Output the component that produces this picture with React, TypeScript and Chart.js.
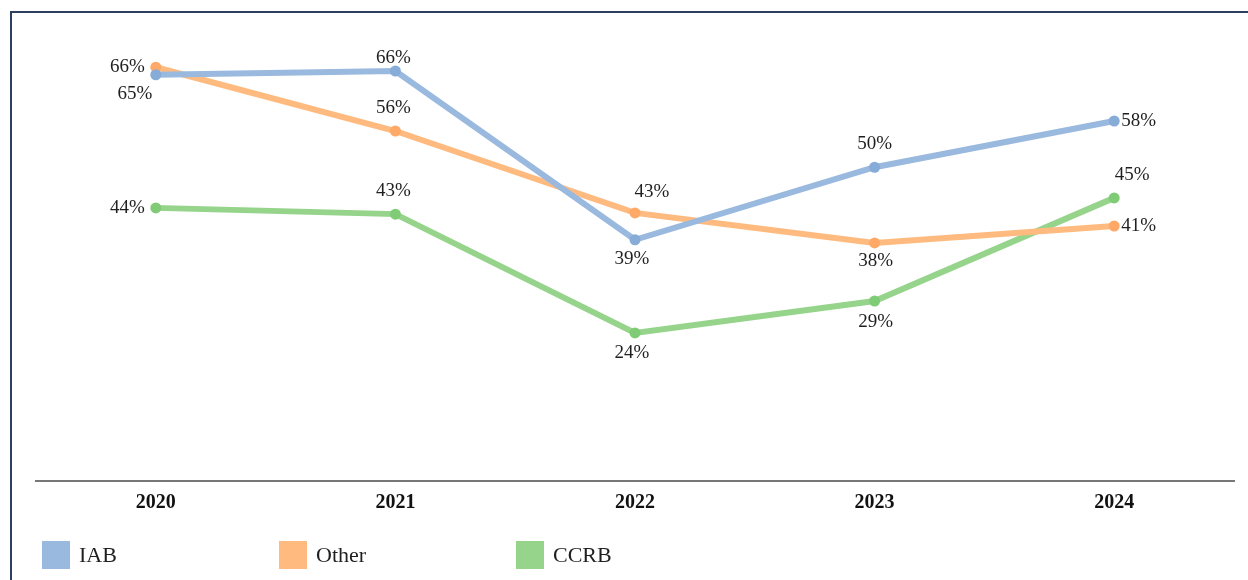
import React, { useEffect, useRef } from "react";
import { Chart, registerables } from "chart.js";

Chart.register(...registerables);

const categories = ["2020", "2021", "2022", "2023", "2024"];
const seriesNames = ["IAB", "Other", "CCRB"];
const iabValues = [65.0, 65.6, 38.6, 50.2, 57.6];
const otherValues = [66.2, 56.0, 42.9, 38.1, 40.8];
const ccrbValues = [43.7, 42.7, 23.7, 28.8, 45.3];

const lineColors = ["#9ab9de", "#ffbb7f", "#96d48c"];
const pointColors = ["#88acd8", "#ffa968", "#80cb76"];

// label placement per point: [dx, dy, align]
const labelPlacement: [number, number, CanvasTextAlign][][] = [
  [[-21, 19, "center"], [-2, -13, "center"], [-3, 19, "center"], [0, -23, "center"], [7, 0, "left"]],
  [[-11, 0, "right"], [-2, -23, "center"], [17, -21, "center"], [1, 18, "center"], [7, 0, "left"]],
  [[-11, 0, "right"], [-2, -23, "center"], [-3, 20, "center"], [1, 21, "center"], [18, -23, "center"]],
];

const SERIF = "'Liberation Serif', 'Times New Roman', serif";

const labelPlugin = {
  id: "pctLabels",
  afterDatasetsDraw(chart: any) {
    const ctx = chart.ctx;
    ctx.save();
    ctx.font = `19px ${SERIF}`;
    ctx.fillStyle = "#1f1f1f";
    ctx.textBaseline = "middle";
    chart.data.datasets.forEach((ds: any, di: number) => {
      const meta = chart.getDatasetMeta(di);
      meta.data.forEach((pt: any, i: number) => {
        const [dx, dy, align] = labelPlacement[di][i];
        ctx.textAlign = align;
        ctx.fillText(`${Math.round(ds.data[i])}%`, pt.x + dx, pt.y + dy);
      });
    });
    ctx.restore();
  },
};

export default function App() {
  const canvasRef = useRef<HTMLCanvasElement>(null);

  useEffect(() => {
    if (!canvasRef.current) return;
    const allValues = [iabValues, otherValues, ccrbValues];
    const chart = new Chart(canvasRef.current, {
      type: "line",
      data: {
        labels: categories,
        datasets: seriesNames.map((name, i) => ({
          label: name,
          data: allValues[i],
          borderColor: lineColors[i],
          backgroundColor: pointColors[i],
          pointBackgroundColor: pointColors[i],
          pointBorderColor: pointColors[i],
          pointRadius: 5.5,
          pointBorderWidth: 0,
          borderWidth: 6,
          tension: 0,
          fill: false,
        })),
      },
      options: {
        animation: false,
        responsive: false,
        maintainAspectRatio: false,
        layout: { padding: { left: 36, right: 14, top: 43.5, bottom: 0 } },
        plugins: {
          legend: { display: false },
          tooltip: { enabled: false },
          title: { display: false },
        },
        scales: {
          x: {
            type: "category",
            offset: true,
            grid: { display: false, drawTicks: false },
            border: { display: true, color: "#777777", width: 2 },
            ticks: {
              color: "#111111",
              padding: 10,
              font: { family: SERIF, size: 20, weight: "bold" },
            },
            afterFit(scale: any) {
              scale.height = 99;
            },
          },
          y: {
            display: false,
            min: 0,
            max: 70,
          },
        },
      },
      plugins: [labelPlugin],
    });
    return () => chart.destroy();
  }, []);

  const legendX = [42, 279, 516];

  return (
    <div
      style={{
        position: "fixed",
        left: 0,
        top: 0,
        width: 1248,
        height: 580,
        overflow: "hidden",
        background: "#ffffff",
      }}
    >
      <div
        style={{
          position: "absolute",
          left: 10,
          top: 11,
          width: 1300,
          height: 700,
          border: "2px solid #2b3f5e",
          boxSizing: "border-box",
        }}
      />
      <canvas
        ref={canvasRef}
        width={1248}
        height={580}
        style={{ position: "absolute", left: 0, top: 0, width: 1248, height: 580 }}
      />
      {seriesNames.map((name, i) => (
        <div
          key={name}
          style={{
            position: "absolute",
            left: legendX[i],
            top: 541,
            height: 28,
            display: "flex",
            alignItems: "center",
          }}
        >
          <div style={{ width: 28, height: 28, background: lineColors[i] }} />
          <span
            style={{
              marginLeft: 9,
              fontFamily: SERIF,
              fontSize: 22,
              color: "#1f1f1f",
              lineHeight: "28px",
            }}
          >
            {name}
          </span>
        </div>
      ))}
    </div>
  );
}
